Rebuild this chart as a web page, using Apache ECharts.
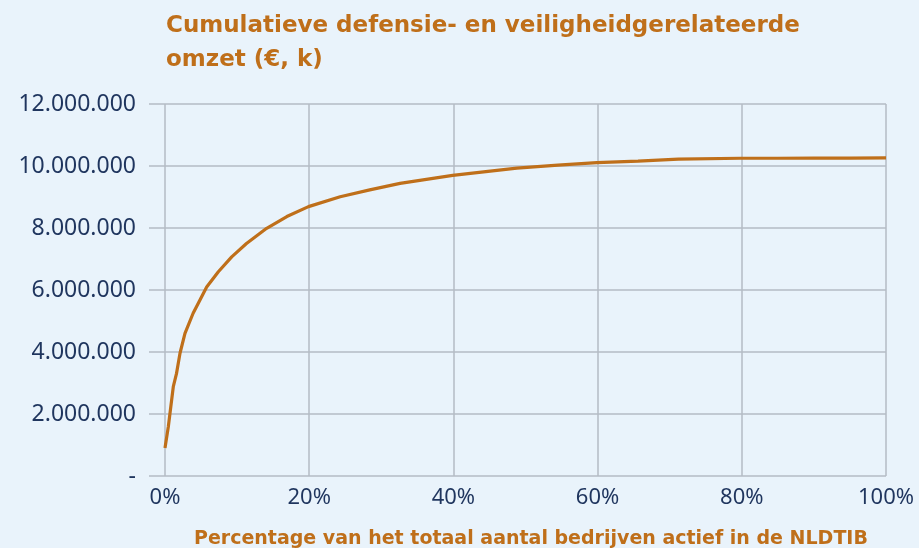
<!DOCTYPE html>
<html lang="nl">
<head>
    <meta charset="UTF-8">
    <title>Cumulatieve omzet</title>
    <script src="https://cdn.jsdelivr.net/npm/echarts@6/dist/echarts.min.js"></script>
    <style>
        html, body { margin: 0; padding: 0; background: #E9F3FB; }
        #main { width: 919px; height: 548px; }
    </style>
</head>
<body>
<div id="main"></div>
<script type="text/javascript">
    var pct = [0, 0.46, 1.15, 1.6, 2.08, 2.77, 3.9, 4.85, 5.78, 7.4, 9.25, 11.3, 14.1, 16.9, 19.9,
        24.3, 28.4, 32.6, 39.9, 44.5, 48.8, 54.5, 59.9, 65.6, 71.2, 79.8, 85, 90, 95, 100];
    var omzet = [900000, 1590000, 2880000, 3310000, 3960000, 4600000, 5250000, 5680000, 6100000, 6590000,
        7070000, 7500000, 7990000, 8370000, 8690000, 9010000, 9230000, 9440000, 9700000, 9820000,
        9930000, 10030000, 10110000, 10160000, 10220000, 10250000, 10250000, 10255000, 10255000, 10260000];
    var xTicks = [0, 20, 40, 60, 80, 100];
    var yMax = 12000000, yStep = 2000000;

    var txt = '#1F355E';
    var oranje = '#BF6F1A';
    var gridKleur = '#B3BBC4';

    function fmtY(v) {
        if (v === 0) return '-';
        return String(v).replace(/\B(?=(\d{3})+(?!\d))/g, '.');
    }

    var data = [];
    for (var i = 0; i < pct.length; i++) data.push([pct[i], omzet[i]]);

    var chart = echarts.init(document.getElementById('main'));
    chart.setOption({
        backgroundColor: '#E9F3FB',
        textStyle: { fontFamily: 'Noto Sans' },
        title: [{
            text: 'Cumulatieve defensie- en veiligheidgerelateerde\nomzet (€, k)',
            left: 161, top: 4,
            textStyle: { color: oranje, fontSize: 23, fontWeight: 'bold', lineHeight: 34, fontFamily: 'DejaVu Sans' }
        }, {
            text: 'Percentage van het totaal aantal bedrijven actief in de NLDTIB',
            left: 189, top: 525,
            textStyle: { color: oranje, fontSize: 19, fontWeight: 'bold', fontFamily: 'DejaVu Sans' }
        }],
        grid: [
            // raster voor de horizontale lijnen (iets breder naar links)
            { left: 149, right: 33, top: 104, bottom: 72 },
            // raster voor de lijn en x-as
            { left: 165, right: 33, top: 104, bottom: 72 }
        ],
        xAxis: [{
            gridIndex: 0, type: 'value', min: 0, max: 100, show: false
        }, {
            gridIndex: 1, type: 'value', min: 0, max: 100, interval: 20,
            axisLine: { show: false },
            axisTick: { show: false },
            splitLine: { show: true, lineStyle: { color: gridKleur, width: 1.5 } },
            axisLabel: {
                color: txt, fontSize: 22, margin: 11,
                formatter: function (v) { return xTicks.indexOf(v) >= 0 ? v + '%' : ''; }
            }
        }],
        yAxis: [{
            gridIndex: 0, type: 'value', min: 0, max: yMax, interval: yStep,
            axisLine: { show: false },
            axisTick: { show: false },
            splitLine: { show: true, lineStyle: { color: gridKleur, width: 1.5 } },
            axisLabel: { color: txt, fontSize: 23, margin: 13, formatter: fmtY }
        }, {
            gridIndex: 1, type: 'value', min: 0, max: yMax, interval: yStep, show: false,
            splitLine: { show: false }
        }],
        series: [{
            type: 'line',
            xAxisIndex: 1, yAxisIndex: 1,
            data: data,
            showSymbol: false,
            smooth: false,
            lineStyle: { color: oranje, width: 3.2 },
            itemStyle: { color: oranje }
        }]
    });
</script>
</body>
</html>
